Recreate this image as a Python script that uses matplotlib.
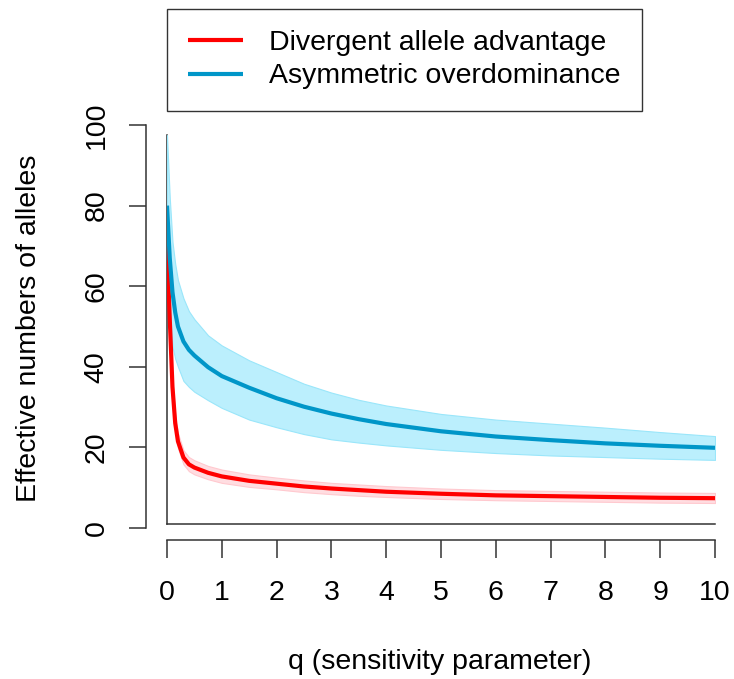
import numpy as np
import matplotlib
matplotlib.use("Agg")
import matplotlib.pyplot as plt

plt.rcParams["font.family"] = ["Liberation Sans", "DejaVu Sans"]

# ── Data ──────────────────────────────────────────────────────────────────────
q = [0, 0.05, 0.1, 0.15, 0.2, 0.3, 0.4, 0.5, 0.75, 1, 1.5, 2, 2.5, 3, 3.5,
     4, 5, 6, 7, 8, 9, 10]

daa_mean  = [70, 52, 35, 26, 21.5, 17.5, 15.8, 15.0, 13.7, 12.8, 11.7, 11.0,
             10.3, 9.8, 9.4, 9.0, 8.5, 8.1, 7.9, 7.7, 7.5, 7.4]
daa_upper = [71, 54, 37, 28, 23.5, 19.3, 17.6, 16.8, 15.4, 14.5, 13.3, 12.5,
             11.8, 11.2, 10.8, 10.4, 9.8, 9.4, 9.2, 9.0, 8.8, 8.7]
daa_lower = [69, 50, 33, 24, 19.8, 15.8, 14.1, 13.3, 12.1, 11.2, 10.2, 9.6,
             8.9, 8.4, 8.0, 7.7, 7.2, 6.9, 6.7, 6.5, 6.3, 6.2]

aod_mean  = [80, 67, 58.5, 53.5, 50, 46.3, 44.2, 42.8, 39.9, 37.7, 34.8, 32.2,
             30.1, 28.4, 27.0, 25.8, 24.0, 22.7, 21.8, 21.0, 20.4, 19.9]
aod_upper = [97.5, 82, 71, 65.5, 61.5, 57, 53.8, 51.8, 47.8, 45.3, 41.6, 38.7,
             35.8, 33.6, 31.8, 30.4, 28.3, 26.9, 25.9, 24.9, 23.8, 22.8]
aod_lower = [66, 54, 45, 42, 40, 36.5, 35, 33.8, 31.7, 29.8, 26.9, 25.0,
             23.3, 22.0, 21.2, 20.5, 19.4, 18.6, 18.0, 17.6, 17.2, 16.9]

xticks = list(range(0, 11))
yticks = [0, 20, 40, 60, 80, 100]

W, H = 734, 679
FS = 20.5

fig = plt.figure(figsize=(W / 100, H / 100), dpi=100)

def px_box(x0, y0, x1, y1):
    # pixel box (top-left origin) -> figure fraction rect
    return [x0 / W, 1 - y1 / H, (x1 - x0) / W, (y1 - y0) / H]

# frame lines (R bty="l" look)
ax_box = fig.add_axes(px_box(167, 135, 715, 524))
ax_box.set_xticks([])
ax_box.set_yticks([])
ax_box.patch.set_visible(False)
for s in ["top", "right"]:
    ax_box.spines[s].set_visible(False)
for s in ["left", "bottom"]:
    ax_box.spines[s].set_color("#333333")
    ax_box.spines[s].set_linewidth(1.1)

# data axes
ax = fig.add_axes(px_box(167, 125, 715, 528))
ax.patch.set_visible(False)
ax.set_xlim(0, 10)
ax.set_ylim(0, 100)

ax.fill_between(q, aod_lower, aod_upper, facecolor="#BBEFFD",
                edgecolor="#9AE6FA", linewidth=0.8, zorder=1)
ax.fill_between(q, daa_lower, daa_upper, facecolor="#FFDDE1",
                edgecolor="#FFC9CF", linewidth=0.8, zorder=1)
ax.plot(q, daa_mean, color="#FF0000", linewidth=3, solid_capstyle="butt",
        label="Divergent allele advantage", zorder=3)
ax.plot(q, aod_mean, color="#0096C8", linewidth=3, solid_capstyle="butt",
        label="Asymmetric overdominance", zorder=3)

for s in ["top", "right"]:
    ax.spines[s].set_visible(False)
ax.spines["left"].set_position(("outward", 15.1))
ax.spines["bottom"].set_position(("outward", 8.3))
for s in ["left", "bottom"]:
    ax.spines[s].set_color("#333333")
    ax.spines[s].set_linewidth(1.1)

ax.set_xticks(xticks)
ax.set_yticks(yticks)
ax.set_xticklabels([str(t) for t in xticks])
ax.set_yticklabels([str(t) for t in yticks], rotation=90, va="center")
ax.tick_params(axis="both", direction="out", length=12.6, width=1.1,
               color="#333333", labelsize=FS)
ax.tick_params(axis="x", pad=16.5)
ax.tick_params(axis="y", pad=13.5)

fig.text(440 / W, 1 - 662 / H, "q (sensitivity parameter)", fontsize=FS,
         ha="center", va="center")
fig.text(29 / W, 1 - 328 / H, "Effective numbers of alleles", fontsize=FS,
         ha="center", va="center", rotation=90)

leg = fig.legend(loc="upper left", bbox_to_anchor=(167 / W, 1 - 9 / H),
                 borderaxespad=0, fontsize=FS, frameon=True, fancybox=False,
                 edgecolor="black", handlelength=1.93, handletextpad=0.91,
                 labelspacing=0.25, borderpad=0.75)
leg.get_frame().set_linewidth(1.0)
for line in leg.get_lines():
    line.set_linewidth(3)

fig.savefig("out.png", dpi=100)
